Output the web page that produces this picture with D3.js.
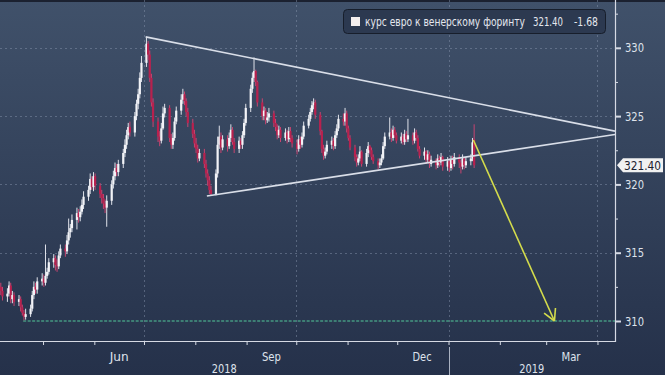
<!DOCTYPE html>
<html>
<head>
<meta charset="utf-8">
<script src="https://cdn.jsdelivr.net/npm/d3@7"></script>
<style>
  html, body { margin: 0; padding: 0; background: #2c3a52; }
  svg { display: block; }
  text { font-family: "DejaVu Sans Condensed", "Liberation Sans", sans-serif; }
</style>
</head>
<body>
<div id="chart"></div>
<script>
// series info
const seriesName = 'курс евро к венерскому форинту';
const lastValue = '321.40';
const lastChange = '-1.68';

// daily EUR/HUF candles, business days 5 Apr 2018 .. 16 Jan 2019
const firstDay = new Date(2018, 3, 5);
const lastDay = new Date(2019, 0, 16);

const opens = [
  312.5, 312.2,
  311.8, 312.0, 312.6, 311.6, 311.9,  311.4, 311.6, 311.0, 310.6, 310.3,
  310.5, 310.9, 311.9, 312.5, 312.3,  312.9, 313.1, 312.8, 313.3, 313.6,
  314.3, 314.6, 314.1, 314.0, 314.8,  315.3, 315.1, 315.9, 316.5, 316.8,
  317.4, 317.9, 317.6, 318.0, 318.5,  319.1, 319.6, 320.4, 319.8, 320.6,
  319.9, 319.3, 319.0, 318.6, 318.3,  318.8, 320.0, 320.6, 321.2, 320.9,
  321.5, 322.3, 322.9, 323.6, 324.2,  323.8, 325.0, 325.9, 326.6, 327.8,
  328.9, 330.3, 329.5, 327.8, 326.0,  324.6, 323.5, 323.2, 324.1, 325.2,
  325.6, 323.4, 322.9, 323.4, 324.6,  325.4, 326.2, 326.6, 326.1, 325.3,
  324.5, 323.7, 323.0, 322.6, 321.9,  322.3, 321.5, 320.8, 320.3, 319.6,
  319.3, 320.8, 322.9, 323.5, 322.7,  323.3, 322.8, 323.4, 324.0, 323.1,
  322.6, 323.2, 322.9, 323.6, 324.5,  325.6, 327.0, 327.8, 328.3, 327.5,
  326.0, 325.0, 325.4, 324.7, 324.9,  325.2, 324.5, 324.2, 323.6, 324.0,
  323.4, 323.8, 323.3, 323.9, 323.4,  323.0, 322.6, 323.3, 322.9, 323.5,
  324.3, 324.8, 325.3, 325.8, 326.0,  325.1, 323.9, 322.6, 322.1, 322.4,
  322.9, 323.2, 322.8, 323.6, 324.1,  324.8, 324.6, 325.2, 324.1, 323.4,
  322.7, 322.0, 321.6, 321.9, 322.4,  321.5, 322.3, 322.8, 322.5, 322.0,
  321.7, 321.4, 321.6, 321.9, 322.8,  323.5, 323.8, 323.4, 324.0, 323.6,
  323.2, 323.5, 323.1, 323.7, 323.3,  323.6, 323.2, 323.8, 323.4, 322.6,
  322.1, 322.4, 321.8, 322.2, 321.5,  321.8, 321.4, 321.9, 321.6, 322.0,
  321.3, 321.7, 321.2, 321.8, 321.5,  322.0, 321.6, 321.3, 321.9, 321.4,
  321.7, 321.9, 323.3
];
const highs = [
  312.8, 312.5,
  312.4, 312.9, 312.8, 312.2, 312.1,  311.9, 311.8, 311.2, 310.8, 310.9,
  311.2, 312.2, 312.9, 312.8, 313.2,  313.5, 313.4, 315.6, 313.9, 314.6,
  314.9, 314.8, 314.5, 315.1, 315.6,  315.6, 316.3, 317.5, 317.1, 317.8,
  318.3, 318.2, 318.4, 318.9, 319.5,  319.9, 320.8, 320.6, 320.9, 320.8,
  320.1, 319.6, 319.3, 318.9, 319.2,  320.3, 321.0, 321.6, 321.5, 321.8,
  322.6, 323.3, 324.0, 324.5, 324.6,  325.3, 326.2, 327.0, 328.2, 329.4,
  330.8, 330.5, 329.8, 328.1, 326.3,  324.9, 323.9, 324.5, 325.7, 325.9,
  325.8, 323.7, 323.8, 324.9, 325.7,  326.6, 327.0, 326.8, 326.3, 325.6,
  324.8, 324.0, 323.4, 322.9, 322.6,  322.6, 321.8, 321.1, 320.6, 319.9,
  321.1, 323.5, 324.3, 323.8, 323.6,  323.6, 323.8, 324.4, 324.2, 323.4,
  323.5, 323.4, 323.9, 324.8, 325.9,  327.3, 328.2, 329.3, 328.4, 327.6,
  326.3, 325.7, 325.6, 325.3, 325.6,  325.4, 324.8, 324.4, 324.3, 324.2,
  324.1, 324.0, 324.2, 324.2, 323.6,  323.3, 323.6, 323.5, 323.8, 324.6,
  325.1, 325.6, 326.1, 326.3, 326.2,  325.3, 324.0, 322.9, 322.7, 323.2,
  323.5, 323.4, 323.9, 324.4, 325.1,  325.2, 325.6, 325.4, 324.3, 323.6,
  322.9, 322.2, 322.2, 322.8, 322.5,  322.6, 323.1, 322.9, 322.7, 322.2,
  321.9, 321.9, 322.2, 323.1, 323.8,  324.9, 324.1, 324.3, 324.2, 323.8,
  323.8, 323.7, 324.0, 323.9, 324.8,  323.8, 324.1, 324.0, 323.6, 322.8,
  322.7, 322.5, 322.5, 322.4, 322.1,  321.9, 322.2, 322.1, 322.3, 322.1,
  322.0, 321.9, 322.1, 322.1, 322.3,  322.2, 321.8, 322.2, 322.0, 322.0,
  322.2, 323.4, 324.4
];
const lows = [
  311.9, 311.5,
  311.4, 311.8, 311.3, 311.3, 311.1,  311.1, 310.7, 310.4, 310.05, 310.1,
  310.3, 310.7, 311.6, 312.0, 312.0,  312.6, 312.5, 312.6, 313.1, 313.4,
  313.9, 313.7, 313.6, 313.8, 314.6,  314.7, 314.9, 315.6, 316.1, 316.5,
  316.7, 317.2, 317.3, 317.8, 318.2,  318.8, 319.3, 319.6, 319.5, 319.6,
  319.0, 318.6, 318.2, 317.9, 316.9,  318.5, 319.7, 320.3, 320.6, 320.6,
  321.2, 322.0, 322.6, 323.3, 323.5,  323.5, 324.7, 325.5, 326.3, 327.5,
  328.6, 329.1, 327.5, 325.7, 324.2,  323.1, 322.8, 323.0, 324.0, 324.9,
  323.1, 322.6, 322.6, 323.2, 324.4,  325.1, 325.9, 325.8, 325.0, 324.2,
  323.4, 322.7, 322.3, 321.6, 321.7,  321.2, 320.5, 319.9, 319.3, 319.15,
  319.2, 320.5, 322.6, 322.3, 322.5,  322.4, 322.6, 323.1, 322.9, 322.3,
  322.3, 322.6, 322.6, 323.4, 324.3,  325.3, 326.7, 327.5, 327.2, 325.7,
  324.7, 324.7, 324.4, 324.5, 324.6,  324.2, 323.9, 323.3, 323.4, 323.1,
  323.2, 323.0, 323.1, 323.1, 322.7,  322.2, 322.4, 322.6, 322.7, 323.3,
  324.1, 324.6, 325.1, 325.5, 324.8,  323.6, 322.3, 321.8, 321.9, 322.2,
  322.6, 322.5, 322.6, 323.4, 323.9,  324.3, 324.3, 323.8, 323.2, 322.5,
  321.7, 321.3, 321.4, 321.7, 321.3,  321.3, 322.0, 322.2, 321.8, 321.5,
  321.1, 321.2, 321.4, 321.8, 322.6,  323.3, 323.1, 323.2, 323.4, 323.0,
  323.0, 322.9, 322.9, 323.1, 323.1,  322.9, 323.0, 323.2, 322.4, 321.9,
  321.8, 321.5, 321.6, 321.2, 321.3,  321.1, 321.2, 321.3, 321.4, 321.0,
  321.0, 320.9, 321.0, 321.1, 321.3,  321.2, 320.8, 321.1, 321.1, 321.2,
  321.4, 321.7, 321.2
];
const closes = [
  312.2, 311.8,
  312.0, 312.6, 311.6, 311.9, 311.4,  311.6, 311.0, 310.6, 310.3, 310.5,
  310.9, 311.9, 312.5, 312.3, 312.9,  313.1, 312.8, 313.3, 313.6, 314.3,
  314.6, 314.1, 314.0, 314.8, 315.3,  315.1, 315.9, 316.5, 316.8, 317.4,
  317.9, 317.6, 318.0, 318.5, 319.1,  319.6, 320.4, 319.8, 320.6, 319.9,
  319.3, 319.0, 318.6, 318.3, 318.8,  320.0, 320.6, 321.2, 320.9, 321.5,
  322.3, 322.9, 323.6, 324.2, 323.8,  325.0, 325.9, 326.6, 327.8, 328.9,
  330.3, 329.5, 327.8, 326.0, 324.6,  323.5, 323.2, 324.1, 325.2, 325.6,
  323.4, 322.9, 323.4, 324.6, 325.4,  326.2, 326.6, 326.1, 325.3, 324.5,
  323.7, 323.0, 322.6, 321.9, 322.3,  321.5, 320.8, 320.3, 319.6, 319.3,
  320.8, 322.9, 323.5, 322.7, 323.3,  322.8, 323.4, 324.0, 323.1, 322.6,
  323.2, 322.9, 323.6, 324.5, 325.6,  327.0, 327.8, 328.3, 327.5, 326.0,
  325.0, 325.4, 324.7, 324.9, 325.2,  324.5, 324.2, 323.6, 324.0, 323.4,
  323.8, 323.3, 323.9, 323.4, 323.0,  322.6, 323.3, 322.9, 323.5, 324.3,
  324.8, 325.3, 325.8, 326.0, 325.1,  323.9, 322.6, 322.1, 322.4, 322.9,
  323.2, 322.8, 323.6, 324.1, 324.8,  324.6, 325.2, 324.1, 323.4, 322.7,
  322.0, 321.6, 321.9, 322.4, 321.5,  322.3, 322.8, 322.5, 322.0, 321.7,
  321.4, 321.6, 321.9, 322.8, 323.5,  323.8, 323.4, 324.0, 323.6, 323.2,
  323.5, 323.1, 323.7, 323.3, 323.6,  323.2, 323.8, 323.4, 322.6, 322.1,
  322.4, 321.8, 322.2, 321.5, 321.8,  321.4, 321.9, 321.6, 322.0, 321.3,
  321.7, 321.2, 321.8, 321.5, 322.0,  321.6, 321.3, 321.9, 321.4, 321.7,
  321.9, 323.08, 321.40
];

// axis
const yTicks = [310, 315, 320, 325, 330];
const yMinorTicks = [312.5, 317.5, 322.5, 327.5, 332.5];
const monthLabels = ['Jun', 'Sep', 'Dec', 'Mar'];
const monthLabelDates = [new Date(2018, 5, 16), new Date(2018, 8, 16), new Date(2018, 11, 16), new Date(2019, 2, 16)];
const yearLabels = ['2018', '2019'];
const yearStart = new Date(2019, 0, 1);

// annotations drawn on the chart
const axisStart = new Date(2018, 3, 5);
const axisEnd = new Date(2019, 3, 11, 14);
const upperTrend = [[new Date(2018, 6, 2), 330.8], [axisEnd, 323.9]];
const lowerTrend = [[new Date(2018, 7, 8), 319.15], [axisEnd, 323.65]];
const targetLine = [[new Date(2018, 3, 19), 310], [axisEnd, 310]];
const arrowLine = [[new Date(2019, 0, 16), 323.25], [new Date(2019, 2, 6), 310]];

const width = 665;
const height = 375;
const plotRight = 615;
const plotBottom = 341;
const labelColor = '#dfe3ec';

const svg = d3.select('#chart')
  .append('svg')
  .attr('width', width)
  .attr('height', height);

// background
const defs = svg.append('defs');
const grad = defs.append('linearGradient').attr('id', 'bg').attr('x1', 0).attr('y1', 0).attr('x2', 0).attr('y2', 1);
grad.append('stop').attr('offset', '0%').attr('stop-color', '#40516a');
grad.append('stop').attr('offset', '100%').attr('stop-color', '#25314a');
svg.append('rect').attr('width', width).attr('height', height).attr('fill', 'url(#bg)');
svg.append('rect').attr('width', width).attr('height', 2).attr('fill', '#1b2130');

defs.append('clipPath').attr('id', 'plot')
  .append('rect').attr('x', 0).attr('y', 0).attr('width', plotRight).attr('height', plotBottom);

const x = d3.scaleTime().domain([axisStart, axisEnd]).range([0, plotRight]);
const y = d3.scaleLinear().domain([308.536, 333.5]).range([plotBottom, 0]);

const days = d3.timeDays(firstDay, d3.timeDay.offset(lastDay, 1))
  .filter((d) => d.getDay() !== 0 && d.getDay() !== 6);
const data = days.map((d, i) => ({
  date: d, o: opens[i], h: highs[i], l: lows[i], c: closes[i],
}));

// grid
const grid = svg.append('g').attr('stroke', '#8c9ab2').attr('stroke-opacity', 0.45)
  .attr('stroke-dasharray', '2,3').attr('stroke-width', 1);
grid.selectAll('.hg').data(yTicks.filter((v) => v !== 310)).enter()
  .append('line')
  .attr('x1', 0).attr('x2', plotRight)
  .attr('y1', (d) => Math.round(y(d)) + 0.5).attr('y2', (d) => Math.round(y(d)) + 0.5);
grid.selectAll('.vg').data(x.ticks(d3.timeMonth.every(3))).enter()
  .append('line')
  .attr('x1', (d) => Math.round(x(d)) + 0.5).attr('x2', (d) => Math.round(x(d)) + 0.5)
  .attr('y1', 0).attr('y2', plotBottom);

const plot = svg.append('g').attr('clip-path', 'url(#plot)');
const line = d3.line().x((d) => x(d[0])).y((d) => y(d[1]));

// target level
plot.append('path').attr('d', line(targetLine))
  .attr('fill', 'none').attr('stroke', '#52c79a').attr('stroke-width', 1.2).attr('stroke-dasharray', '3,1.5');

// candles
const halfDay = 0.8;
const bodyW = 2.2;
const candles = plot.selectAll('.candle').data(data).enter().append('g');
candles.append('line')
  .attr('x1', (d) => x(d.date) + halfDay).attr('x2', (d) => x(d.date) + halfDay)
  .attr('y1', (d) => y(d.h)).attr('y2', (d) => y(d.l))
  .attr('stroke', (d) => (d.c >= d.o ? '#dfe2ea' : '#c84470'))
  .attr('stroke-width', 1);
candles.append('rect')
  .attr('x', (d) => x(d.date) + halfDay - bodyW / 2)
  .attr('y', (d) => y(Math.max(d.o, d.c)))
  .attr('width', bodyW)
  .attr('height', (d) => Math.max(1, Math.abs(y(d.o) - y(d.c))))
  .attr('fill', (d) => (d.c >= d.o ? '#f2f3f7' : '#b8214e'));

// trend lines
[upperTrend, lowerTrend].forEach((t) => {
  plot.append('path').attr('d', line(t))
    .attr('fill', 'none').attr('stroke', '#d9dee8').attr('stroke-width', 1.6);
});

// forecast arrow
const arrowColor = '#d4dc4c';
plot.append('path').attr('d', line(arrowLine))
  .attr('fill', 'none').attr('stroke', arrowColor).attr('stroke-width', 1.6);
const ax0 = x(arrowLine[0][0]); const ay0 = y(arrowLine[0][1]);
const ax1 = x(arrowLine[1][0]); const ay1 = y(arrowLine[1][1]);
const ang = Math.atan2(ay0 - ay1, ax0 - ax1);
const headLen = 13;
[-0.5, 0.5].forEach((da) => {
  plot.append('line')
    .attr('x1', ax1).attr('y1', ay1)
    .attr('x2', ax1 + headLen * Math.cos(ang + da))
    .attr('y2', ay1 + headLen * Math.sin(ang + da))
    .attr('stroke', arrowColor).attr('stroke-width', 1.6);
});

// y axis on the right
const axisColor = '#d6dae4';
const yAxis = svg.append('g').attr('transform', `translate(${plotRight},0)`)
  .call(d3.axisRight(y).tickValues(yTicks).tickSize(6).tickPadding(4).tickFormat(d3.format('d')));
yAxis.select('.domain').remove();
yAxis.selectAll('.tick line').attr('stroke', axisColor).attr('stroke-width', 2);
yAxis.selectAll('.tick text').attr('fill', labelColor).attr('font-size', 13)
  .attr('font-family', '"DejaVu Sans Condensed", sans-serif')
  .attr('textLength', 19).attr('lengthAdjust', 'spacingAndGlyphs');
const yMinor = svg.append('g').attr('transform', `translate(${plotRight},0)`)
  .call(d3.axisRight(y).tickValues(yMinorTicks).tickSize(3).tickFormat(''));
yMinor.select('.domain').remove();
yMinor.selectAll('.tick line').attr('stroke', axisColor);

// x axis ticks
const xAxis = svg.append('g').attr('transform', `translate(0,${plotBottom})`)
  .call(d3.axisBottom(x).ticks(d3.timeMonth.every(1)).tickSize(4).tickFormat(''));
xAxis.select('.domain').remove();
xAxis.selectAll('.tick line').attr('stroke', axisColor);

// frame
svg.append('path')
  .attr('d', `M0,${plotBottom + 0.5}H${plotRight + 0.5}V0`)
  .attr('fill', 'none').attr('stroke', axisColor).attr('stroke-width', 1.2);

// month and year labels
svg.selectAll('.mlab').data(monthLabels).enter()
  .append('text')
  .attr('x', (d, i) => x(monthLabelDates[i]))
  .attr('y', 361)
  .attr('text-anchor', 'middle')
  .attr('font-size', 13)
  .attr('fill', labelColor)
  .attr('textLength', 19).attr('lengthAdjust', 'spacingAndGlyphs')
  .text((d) => d);
const yearX = [(0 + x(yearStart)) / 2, (x(yearStart) + plotRight) / 2];
svg.selectAll('.ylab').data(yearLabels).enter()
  .append('text')
  .attr('x', (d, i) => yearX[i])
  .attr('y', 372.5)
  .attr('text-anchor', 'middle')
  .attr('font-size', 12.5)
  .attr('fill', labelColor)
  .attr('textLength', 25).attr('lengthAdjust', 'spacingAndGlyphs')
  .text((d) => d);
svg.append('line')
  .attr('x1', Math.round(x(yearStart)) + 0.5).attr('x2', Math.round(x(yearStart)) + 0.5)
  .attr('y1', 347).attr('y2', height)
  .attr('stroke', '#aab2c2').attr('stroke-width', 1);

// last price tag
const tagY = y(+lastValue);
svg.append('path')
  .attr('d', `M${plotRight + 2},${tagY} L${plotRight + 8},${tagY - 7} H663 V${tagY + 7} H${plotRight + 8} Z`)
  .attr('fill', '#f1f1f1');
svg.append('text')
  .attr('x', plotRight + 9).attr('y', tagY + 4.5)
  .attr('font-size', 13).attr('fill', '#1c2230')
  .attr('textLength', 37).attr('lengthAdjust', 'spacingAndGlyphs')
  .text(lastValue);

// legend
const legend = svg.append('g');
legend.append('rect')
  .attr('x', 343.5).attr('y', 9.5).attr('width', 262).attr('height', 24).attr('rx', 4)
  .attr('fill', '#2c3950').attr('stroke', '#171e2b');
legend.append('rect')
  .attr('x', 351).attr('y', 17).attr('width', 9).attr('height', 9).attr('fill', '#f4efef');
const legendTexts = [
  { text: seriesName, x: 365, len: 160 },
  { text: lastValue, x: 533, len: 30 },
  { text: lastChange, x: 574, len: 24 },
];
legend.selectAll('.lt').data(legendTexts).enter()
  .append('text')
  .attr('x', (d) => d.x).attr('y', 25.5)
  .attr('font-size', 11.5).attr('fill', '#e4e7ee')
  .attr('textLength', (d) => d.len).attr('lengthAdjust', 'spacingAndGlyphs')
  .text((d) => d.text);
</script>
</body>
</html>
